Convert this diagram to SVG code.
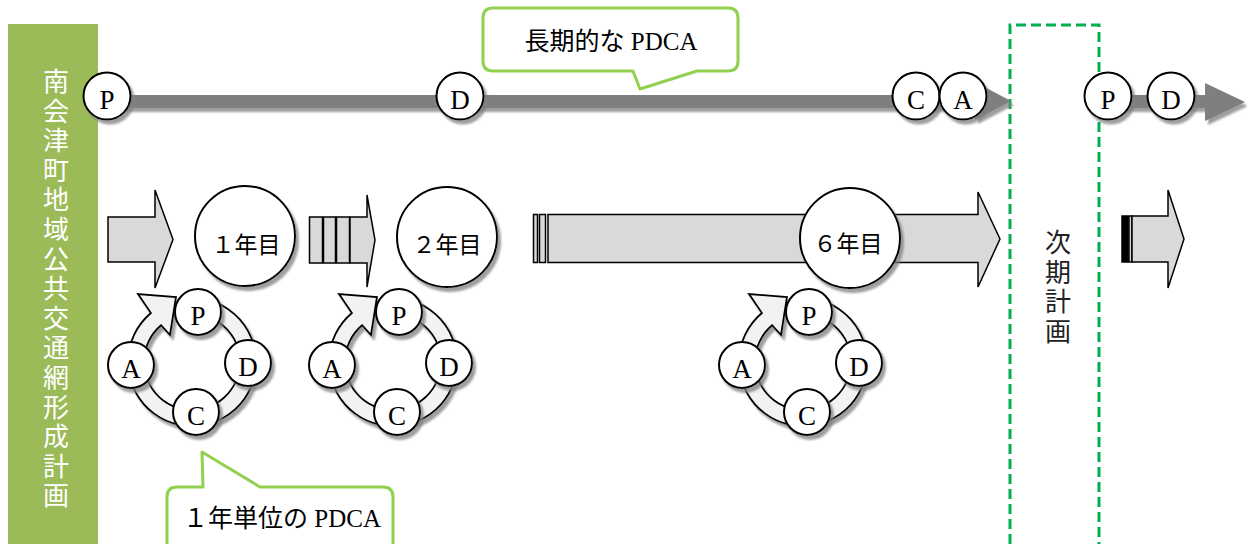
<svg xmlns="http://www.w3.org/2000/svg" width="1247" height="544" viewBox="0 0 1247 544">
<style>
.circ{fill:#fff;stroke:#000;stroke-width:2}
.lt{font-family:"Liberation Serif","Noto Sans CJK JP",serif;font-size:27px;fill:#000;text-anchor:middle}
.big{font-family:"Liberation Serif","Noto Sans CJK JP",serif;font-size:23px;fill:#000;text-anchor:middle}
.blk{fill:#d9d9d9;stroke:#000;stroke-width:1.5}
.ring{fill:#f2f2f2;stroke:#000;stroke-width:1.8}
.call{fill:#fff;stroke:#92d050;stroke-width:3;stroke-linejoin:round}
.ct{font-family:"Liberation Serif","Noto Sans CJK JP",serif;font-size:25px;fill:#000;text-anchor:middle}
.vt{font-family:"Noto Sans CJK JP",sans-serif;font-size:26px;text-anchor:middle}
.gl{fill:#7f7f7f}
</style>
<defs>
<filter id="sh" x="-30%" y="-30%" width="170%" height="170%">
<feDropShadow dx="3" dy="4" stdDeviation="1.2" flood-color="#7f7f7f" flood-opacity="0.75"/>
</filter>
<path id="ringp" d="M203.1,299 A64,64 0 1 1 150.9,313 L138,294 L176,297 L170,335 L161.1,325.2 A48,48 0 1 0 200.3,314.7 Z"/>
</defs>
<rect width="1247" height="544" fill="#fff"/>

<g id="plan-bar">
<rect x="8" y="24" width="90" height="530" fill="#9bbb59"/>
<text class="vt" fill="#fff" x="56" y="91">南<tspan x="56" dy="29.6">会</tspan><tspan x="56" dy="29.6">津</tspan><tspan x="56" dy="29.6">町</tspan><tspan x="56" dy="29.6">地</tspan><tspan x="56" dy="29.6">域</tspan><tspan x="56" dy="29.6">公</tspan><tspan x="56" dy="29.6">共</tspan><tspan x="56" dy="29.6">交</tspan><tspan x="56" dy="29.6">通</tspan><tspan x="56" dy="29.6">網</tspan><tspan x="56" dy="29.6">形</tspan><tspan x="56" dy="29.6">成</tspan><tspan x="56" dy="29.6">計</tspan><tspan x="56" dy="29.6">画</tspan></text>
</g>

<g id="next-plan">
<path d="M1010,544 V25 H1099 V544" fill="none" stroke="#00b050" stroke-width="3" stroke-dasharray="10,5"/>
<text class="vt" fill="#222" x="1058" y="252">次<tspan x="1058" dy="29.7">期</tspan><tspan x="1058" dy="29.7">計</tspan><tspan x="1058" dy="29.7">画</tspan></text>
</g>

<g id="connectors">
<g filter="url(#sh)">
<rect class="gl" x="107" y="95" width="870" height="13"/>
<polygon class="gl" points="975,82 1011,101 975,120"/>
<rect class="gl" x="1108" y="95" width="98" height="13"/>
<polygon class="gl" points="1205,83 1245,102 1205,121"/>
</g>
<polygon class="blk" points="108,217 155,217 155,190 173,239.5 155,288 155,262 108,262"/>
<rect class="blk" x="309.5" y="217" width="13" height="46"/>
<rect class="blk" x="323.5" y="217" width="12" height="46"/>
<rect class="blk" x="336.5" y="217" width="13" height="46"/>
<polygon class="blk" points="350,217 367,217 367,195 375,240 367,287 367,263 350,263"/>
<rect class="blk" x="533.5" y="214.5" width="4" height="48"/>
<rect class="blk" x="539.5" y="214.5" width="6" height="48"/>
<polygon class="blk" points="548,214.5 978,214.5 978,192 1000,239 978,287 978,262.5 548,262.5"/>
<rect x="1122" y="216" width="6" height="46" fill="#000" stroke="#000" stroke-width="1.5"/>
<rect class="blk" x="1129" y="216" width="3" height="46"/>
<polygon class="blk" points="1132,216 1168,216 1168,190 1184,239 1168,288 1168,262 1132,262"/>
</g>

<g id="long-pdca">
<g filter="url(#sh)">
<circle class="circ" cx="107" cy="96" r="23.5"/>
<circle class="circ" cx="460" cy="96" r="23.5"/>
<circle class="circ" cx="916" cy="96" r="23.5"/>
<circle class="circ" cx="963" cy="96" r="23.5"/>
<circle class="circ" cx="1108" cy="96" r="23.5"/>
<circle class="circ" cx="1171" cy="96" r="23.5"/>
</g>
<text class="lt" x="107" y="109">P</text>
<text class="lt" x="460" y="109">D</text>
<text class="lt" x="916" y="109">C</text>
<text class="lt" x="963" y="109">A</text>
<text class="lt" x="1108" y="109">P</text>
<text class="lt" x="1171" y="109">D</text>
</g>

<g id="callout-long">
<path class="call" d="M493,8 H728 Q738,8 738,18 V61 Q738,71 728,71 H697 L640,89 L633,71 H493 Q483,71 483,61 V18 Q483,8 493,8 Z"/>
<text class="ct" x="611" y="50">長期的な PDCA</text>
</g>

<g id="year1">
<circle class="circ" filter="url(#sh)" cx="245" cy="236" r="50"/>
<text class="big" x="246" y="253">１年目</text>
</g>
<g id="year2">
<circle class="circ" filter="url(#sh)" cx="447" cy="237" r="50"/>
<text class="big" x="447" y="253">２年目</text>
</g>
<g id="year6">
<circle class="circ" filter="url(#sh)" cx="850" cy="238" r="50"/>
<text class="big" x="848" y="252">６年目</text>
</g>

<g id="cycle1">
<use href="#ringp" class="ring" filter="url(#sh)"/>
<g filter="url(#sh)">
<circle class="circ" cx="198" cy="312" r="23"/>
<circle class="circ" cx="248" cy="363" r="23"/>
<circle class="circ" cx="196" cy="412" r="23"/>
<circle class="circ" cx="131" cy="365" r="23"/>
</g>
<text class="lt" x="198" y="325">P</text>
<text class="lt" x="248" y="376">D</text>
<text class="lt" x="196" y="425">C</text>
<text class="lt" x="131" y="378">A</text>
</g>

<g id="cycle2" transform="translate(201,0)">
<use href="#ringp" class="ring" filter="url(#sh)"/>
<g filter="url(#sh)">
<circle class="circ" cx="198" cy="312" r="23"/>
<circle class="circ" cx="248" cy="363" r="23"/>
<circle class="circ" cx="196" cy="412" r="23"/>
<circle class="circ" cx="131" cy="365" r="23"/>
</g>
<text class="lt" x="198" y="325">P</text>
<text class="lt" x="248" y="376">D</text>
<text class="lt" x="196" y="425">C</text>
<text class="lt" x="131" y="378">A</text>
</g>

<g id="cycle6" transform="translate(611,0)">
<use href="#ringp" class="ring" filter="url(#sh)"/>
<g filter="url(#sh)">
<circle class="circ" cx="198" cy="312" r="23"/>
<circle class="circ" cx="248" cy="363" r="23"/>
<circle class="circ" cx="196" cy="412" r="23"/>
<circle class="circ" cx="131" cy="365" r="23"/>
</g>
<text class="lt" x="198" y="325">P</text>
<text class="lt" x="248" y="376">D</text>
<text class="lt" x="196" y="425">C</text>
<text class="lt" x="131" y="378">A</text>
</g>

<g id="callout-year">
<path class="call" d="M177,487 H203 L202,452 L260,487 H383 Q393,487 393,497 V560 H167 V497 Q167,487 177,487 Z"/>
<text class="ct" x="282" y="527">１年単位の PDCA</text>
</g>
</svg>
